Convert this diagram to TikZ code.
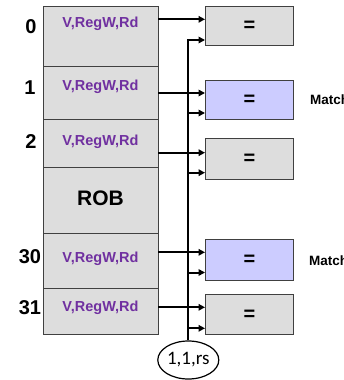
\documentclass[tikz,border=0pt]{standalone}
\usepackage{fontspec}
\setmainfont{Liberation Sans}
\newfontfamily\tagfont{Carlito}
\usetikzlibrary{arrows.meta,shapes.geometric}

\definecolor{cellgray}{HTML}{DDDDDD}
\definecolor{matchblue}{HTML}{CCCCFF}
\definecolor{fieldpurple}{HTML}{7030A0}
\definecolor{edgegray}{HTML}{404040}

\begin{document}
\begin{tikzpicture}[x=1pt,y=-1pt,
  cell/.style={draw=edgegray,fill=cellgray,line width=1pt,minimum width=115pt,
    inner sep=0pt,anchor=north west},
  cmp/.style={draw=edgegray,fill=cellgray,line width=1pt,minimum width=88pt,
    inner sep=0pt,anchor=north west,font=\bfseries\fontsize{20}{20}\selectfont},
  hit/.style={cmp,fill=matchblue},
  field/.style={text=fieldpurple,font=\bfseries\fontsize{14.5}{15}\selectfont,inner sep=0pt},
  idx/.style={font=\bfseries\fontsize{20}{20}\selectfont,inner sep=0pt},
  note/.style={font=\bfseries\fontsize{13.5}{13.5}\selectfont,inner sep=0pt,anchor=west},
  wire/.style={line width=2pt,-{Triangle[length=6.5pt,width=6.5pt]}},
  bus/.style={line width=2pt}]
\clip (0,0) rectangle (343,380);

% reorder buffer entries
\node[cell,minimum height=60pt]   (r0)  at (43,6) {};
\node[cell,minimum height=53.3pt] (r1)  at (43,66) {};
\node[cell,minimum height=47.4pt] (r2)  at (43,119.3) {};
\node[cell,minimum height=66.6pt] (rob) at (43,166.7) {};
\node[cell,minimum height=55pt]   (r30) at (43,233.3) {};
\node[cell,minimum height=46pt]   (r31) at (43,288.3) {};

\node[field] (f0)  at (100.5,24)  {V,RegW,Rd};
\node[field] (f1)  at (100.5,87)  {V,RegW,Rd};
\node[field] (f2)  at (100.5,142) {V,RegW,Rd};
\node[idx]   (robl) at (100.5,198) {\fontsize{21}{21}\selectfont ROB};
\node[field] (f30) at (100.5,259) {V,RegW,Rd};
\node[field] (f31) at (100.5,308) {V,RegW,Rd};

% entry numbers
\node[idx] (n0)  at (31,27)  {0};
\node[idx] (n1)  at (30,88)  {1};
\node[idx] (n2)  at (31,142) {2};
\node[idx] (n30) at (30,257) {30};
\node[idx] (n31) at (30,308) {31};

% comparators
\node[cmp,minimum height=39pt]   (c0) at (205,6)     {=};
\node[hit,minimum height=39.3pt] (c1) at (205,80)    {=};
\node[cmp,minimum height=41pt]   (c2) at (205,138.3) {=};
\node[hit,minimum height=40.7pt] (c3) at (205,239.3) {=};
\node[cmp,minimum height=40pt]   (c4) at (205,294.3) {=};

\node[note] (m1) at (310,99.5) {Match};
\node[note] (m3) at (309,261)  {Match};

% source tag
\node[draw,ellipse,line width=1.2pt,minimum width=61pt,minimum height=38pt,
  inner sep=0pt,font=\tagfont\fontsize{19}{19}\selectfont] (tag) at (188.3,360) {1,1,rs};

% entry outputs to comparators
\foreach \r/\c/\y in {r0/c0/19.3, r1/c1/93, r2/c2/152.7, r30/c3/252.3, r31/c4/307.3} {
  \coordinate (o\r) at (158,\y);
  \draw[wire] (o\r) -- (\c.west |- o\r);
}

% tag bus and its taps
\coordinate (t0) at (188.3,40);
\draw[bus] (tag.north) -- (t0);
\draw[wire] ([xshift=-1pt]t0) -- (c0.west |- t0);
\foreach \c/\y in {c1/113, c2/172.7, c3/272.5, c4/328.3} {
  \coordinate (t\c) at (188.3,\y);
  \draw[wire] ([xshift=-1pt]t\c) -- (\c.west |- t\c);
}
\end{tikzpicture}
\end{document}
